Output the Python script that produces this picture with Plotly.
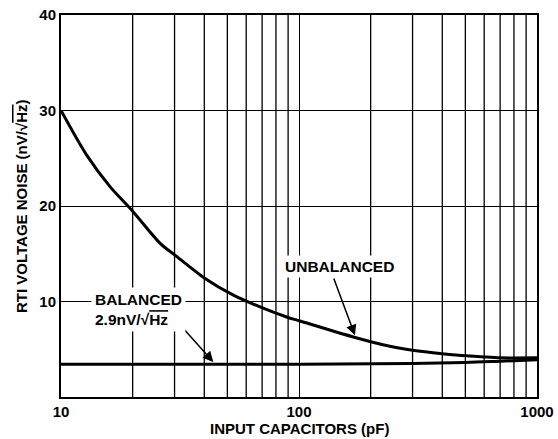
import plotly.graph_objects as go

unbal_x = [10, 12.8, 16.1, 19.8, 26.1, 30.1, 40.3, 53, 68.6, 88.7, 100.9, 169, 241, 300, 400, 500, 600, 700, 1000]
unbal_y = [30.0, 25.35, 22.0, 19.58, 16.09, 14.86, 12.41, 10.66, 9.43, 8.38, 7.96, 6.29, 5.31, 4.9, 4.54, 4.33, 4.19, 4.1, 4.1]

bal_x = [10, 100, 300, 500, 700, 1000]
bal_y = [3.42, 3.44, 3.52, 3.62, 3.75, 3.9]

x_ticks = [10, 100, 1000]
y_ticks = [0, 10, 20, 30, 40]
minor_x = [20, 30, 40, 50, 60, 70, 80, 90, 200, 300, 400, 500, 600, 700, 800, 900]

FONT = "Liberation Sans, Arial, sans-serif"
BFONT = dict(family=FONT, size=15, color="black", weight="bold")
LFONT = dict(family=FONT, size=15.5, color="black", weight="bold")

fig = go.Figure()
fig.add_trace(go.Scatter(x=unbal_x, y=unbal_y, mode="lines",
                         line=dict(color="black", width=3, shape="spline", smoothing=0.8), showlegend=False))
fig.add_trace(go.Scatter(x=bal_x, y=bal_y, mode="lines",
                         line=dict(color="black", width=3, shape="spline", smoothing=1.0), showlegend=False))

for v in minor_x:
    fig.add_shape(type="line", xref="x", yref="paper", x0=v, x1=v, y0=0, y1=1,
                  line=dict(color="black", width=1.3), layer="below")

fig.update_xaxes(type="log", range=[1, 3], tickvals=x_ticks, ticktext=[str(v) for v in x_ticks],
                 showgrid=True, gridcolor="black", gridwidth=1.3, showline=True, linecolor="black",
                 linewidth=2, mirror=True, ticks="", zeroline=False, tickfont=BFONT, automargin=False)
fig.update_yaxes(range=[0, 40], tickvals=y_ticks, ticktext=["", "10", "20", "30", "40"],
                 showgrid=True, gridcolor="black", gridwidth=1.3, showline=True, linecolor="black",
                 linewidth=2, mirror=True, ticks="", zeroline=False, tickfont=BFONT, automargin=False)

# axis titles
fig.add_annotation(xref="paper", yref="paper", x=0.5, y=0, yshift=-31, text="INPUT CAPACITORS (pF)",
                   showarrow=False, font=BFONT, xanchor="center", yanchor="middle")
fig.add_annotation(xref="paper", yref="paper", x=0, y=0.5, xshift=-40,
                   text="RTI VOLTAGE NOISE (nV/√<span style='text-decoration:overline'>Hz</span>)",
                   textangle=-90, showarrow=False, font=BFONT, xanchor="center", yanchor="middle")

# arrows
fig.add_annotation(x=2.235, y=6.46, xref="x", yref="y", ax=-21.7, ay=-58.3, text="", showarrow=True,
                   arrowhead=2, arrowsize=1.4, arrowwidth=1.5, arrowcolor="black")
fig.add_annotation(x=1.64, y=3.66, xref="x", yref="y", ax=-42, ay=-47, text="", showarrow=True,
                   arrowhead=2, arrowsize=1.4, arrowwidth=1.5, arrowcolor="black")

# labels
fig.add_annotation(x=1.93, y=13.63, xref="x", yref="y", text="UNBALANCED", showarrow=False,
                   font=LFONT, bgcolor="white", xanchor="left", yanchor="middle", borderpad=2)
fig.add_annotation(x=1.128, y=9.19, xref="x", yref="y",
                   text="BALANCED<br>2.9nV/√<span style='text-decoration:overline'>Hz</span>",
                   showarrow=False, align="left", font=LFONT, bgcolor="white",
                   xanchor="left", yanchor="middle", borderpad=3)

fig.update_layout(width=558, height=439, margin=dict(l=61, r=21, t=15.4, b=42.4, autoexpand=False),
                  plot_bgcolor="white", paper_bgcolor="white", font=dict(family=FONT, color="black"))

fig.write_html("out.html", config={"displayModeBar": False},
               post_script="document.body.style.margin='0';document.body.style.overflow='hidden';")
